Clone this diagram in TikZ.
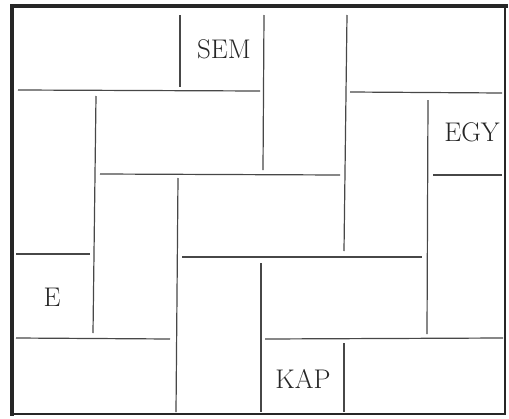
\documentclass[tikz,border=0pt]{standalone}
\usepackage{fontspec}
\tikzset{
  frameline/.style={draw=black!85, line cap=rect},
  wall/.style={draw=black!72, line width=1.2pt},
  label/.style={font=\fontsize{27}{30}\selectfont, text=black!85, inner sep=0pt},
}
\begin{document}
\begin{tikzpicture}[x=1pt,y=-1pt]
\useasboundingbox (0,0) rectangle (509,418);
% outer frame
\draw[frameline, line width=4pt] (12,6) -- (12,414);
\draw[frameline, line width=3.2pt] (12,6) -- (506,6);
\draw[frameline, line width=2.6pt] (505,6) -- (505,414);
\draw[frameline, line width=2pt] (12,414) -- (505,414);
% interior walls (with small gaps at T-junctions)
\draw[wall] (18,90) -- (260,91);
\draw[wall] (180,15) -- (180,87);
\draw[wall] (264,15) -- (263,170);
\draw[wall] (347,15) -- (344,251);
\draw[wall] (350,92) -- (502,93);
\draw[wall] (96,96) -- (93,333);
\draw[wall] (100,174) -- (340,175);
\draw[wall] (428,100) -- (427,334);
\draw[wall] (433,175) -- (502,175);
\draw[wall] (178,178) -- (176,412);
\draw[wall] (16,254) -- (90,254);
\draw[wall] (16,338) -- (170,339);
\draw[wall] (182,257) -- (422,257);
\draw[wall] (261,263) -- (261,412);
\draw[wall] (265,339) -- (503,338);
\draw[wall] (344,343) -- (344,412);
% labels
\node[label] (sem) at (224,49) {SEM};
\node[label] (egy) at (472,132) {EGY};
\node[label] (e) at (52,297) {E};
\node[label] (kap) at (303,379) {KAP};
\end{tikzpicture}
\end{document}
